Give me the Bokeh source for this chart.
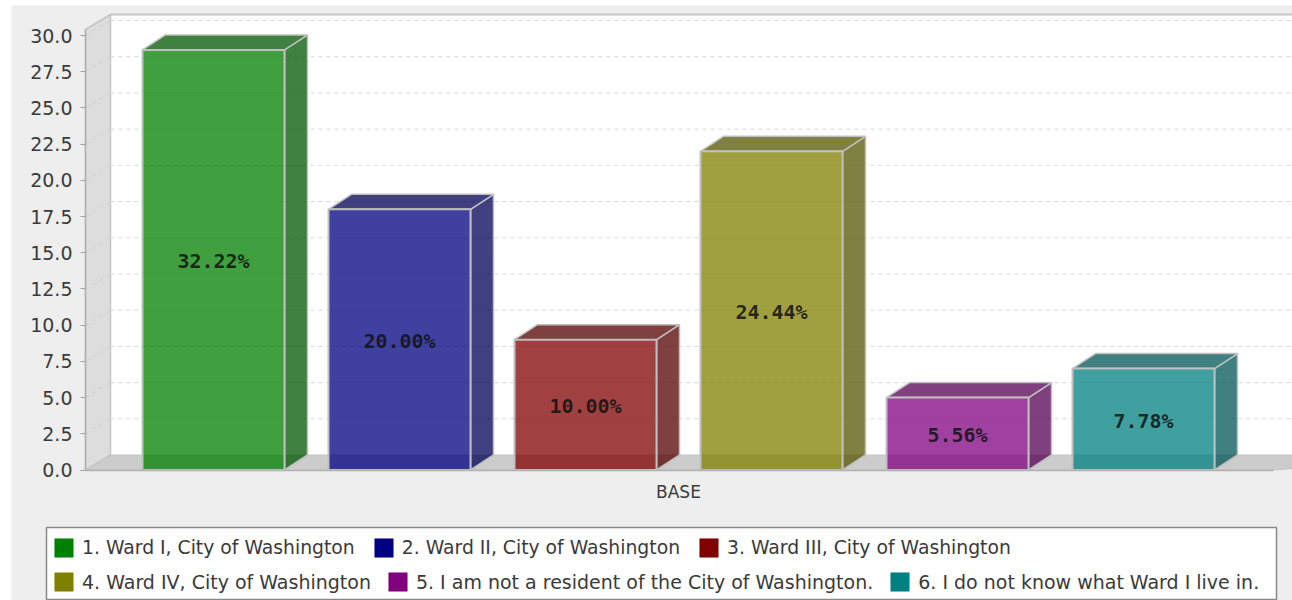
from bokeh.embed import file_html
from bokeh.resources import INLINE
from bokeh.plotting import figure
from bokeh.models import Range1d, FixedTicker, Legend, LegendItem, ColumnDataSource, NumeralTickFormatter
from bokeh.core.properties import value

# ---- data
categories = ["1. Ward I, City of Washington", "2. Ward II, City of Washington",
              "3. Ward III, City of Washington", "4. Ward IV, City of Washington",
              "5. I am not a resident of the City of Washington.",
              "6. I do not know what Ward I live in."]
counts = [29, 18, 9, 22, 5, 7]
labels = ["32.22%", "20.00%", "10.00%", "24.44%", "5.56%", "7.78%"]
colors = ["#008000", "#000080", "#800000", "#808000", "#800080", "#008080"]
side_colors = ["#005500", "#000055", "#550000", "#555500", "#550055", "#005555"]
y_ticks = [0.0, 2.5, 5.0, 7.5, 10.0, 12.5, 15.0, 17.5, 20.0, 22.5, 25.0, 27.5, 30.0]
group_label = "BASE"

# ---- layout (pixel geometry of the page)
FIG_L, FIG_T = 11, 5
FIG_W, FIG_H = 1281, 595
FIG_R, FIG_B = FIG_L + FIG_W, FIG_T + FIG_H
AXIS_L, AXIS_B = 85, 469.5
PX_Y = (469.5 - 35) / 30.0    # pixels per y unit
PX_X = 186.0                  # pixels per bar slot
X0_PX = 213.0                 # pixel of first bar centre
BAR_W = 142.0 / PX_X
WALL_DX, WALL_DY = 25.0 / PX_X, 15.0 / PX_Y
BAR_DX, BAR_DY = 23.0 / PX_X, 15.0 / PX_Y

def xd(px):
    return (px - X0_PX) / PX_X

def yd(px):
    return (AXIS_B - px) / PX_Y

x_start, x_end = xd(FIG_L), xd(FIG_R)
y_start, y_end = yd(FIG_B), yd(FIG_T)
wall_l = xd(AXIS_L)
y_wall_top = yd(14)
y_axis_top = y_wall_top - WALL_DY
floor_right = xd(1273)

p = figure(width=FIG_W, height=FIG_H, output_backend="svg", toolbar_location=None,
           x_range=Range1d(x_start, x_end), y_range=Range1d(y_start, y_end),
           min_border_left=0, min_border_right=0, min_border_top=0, min_border_bottom=0,
           margin=(FIG_T, 0, 0, FIG_L),
           background_fill_color="#eeeeee", border_fill_color="#eeeeee", outline_line_color=None)
p.xgrid.visible = False
p.ygrid.visible = False

# back wall, left wall, floor
wall_color, wall_line = "#dddddd", "#c4c4c4"
p.patch([wall_l + WALL_DX, x_end, x_end, wall_l + WALL_DX],
        [WALL_DY, WALL_DY, y_wall_top, y_wall_top], fill_color="white", line_color=None)
p.segment(wall_l + WALL_DX, y_wall_top, x_end, y_wall_top, line_color=wall_line, line_width=2)
p.patch([wall_l, wall_l + WALL_DX, wall_l + WALL_DX, wall_l],
        [0, WALL_DY, y_wall_top, y_axis_top], fill_color=wall_color, line_color=wall_line, line_width=1.5)
p.patch([wall_l, wall_l + WALL_DX, x_end + 1, floor_right],
        [0, WALL_DY, WALL_DY, 0], fill_color="#cccccc", line_color="#c4c4c4")

# gridlines on the walls
grid_y = [t for t in y_ticks if t > 0]
p.segment(x0=[wall_l + WALL_DX] * len(grid_y), x1=[x_end] * len(grid_y),
          y0=[t + WALL_DY for t in grid_y], y1=[t + WALL_DY for t in grid_y],
          line_color="#d8d8d8", line_width=1, line_dash="4 4")
p.segment(x0=[wall_l] * len(grid_y), x1=[wall_l + WALL_DX] * len(grid_y),
          y0=grid_y, y1=[t + WALL_DY for t in grid_y],
          line_color="#cfcfcf", line_width=1, line_dash="4 4")

# bars
xs = list(range(len(counts)))
BAR_LINE = "#c0c0c0"
for i, c in enumerate(counts):
    l, r = i - BAR_W / 2, i + BAR_W / 2
    p.patch([r, r + BAR_DX, r + BAR_DX, r], [0, BAR_DY, c + BAR_DY, c],
            fill_color=side_colors[i], fill_alpha=0.75, line_color=BAR_LINE, line_width=1.5)
    p.patch([l, l + BAR_DX, r + BAR_DX, r], [c, c + BAR_DY, c + BAR_DY, c],
            fill_color=side_colors[i], fill_alpha=0.75, line_color=BAR_LINE, line_width=1.5)
p.vbar(x=xs, top=counts, bottom=0, width=BAR_W, fill_color=colors, fill_alpha=0.75,
       line_color=BAR_LINE, line_width=2)

# value labels
src = ColumnDataSource(dict(x=xs, y=[c / 2 - 1.5 / PX_Y for c in counts], t=labels))
p.text("x", "y", text="t", source=src, text_align="center", text_baseline="middle",
       text_font=value("DejaVu Sans Mono"), text_font_style="bold", text_font_size="20px",
       text_color="#111111", text_alpha=0.85)

# axes, fixed inside the frame
ax = p.yaxis[0]
ax.fixed_location = wall_l
ax.bounds = (0, y_axis_top)
ax.ticker = FixedTicker(ticks=y_ticks)
ax.formatter = NumeralTickFormatter(format="0.0")
ax.major_label_text_font = "DejaVu Sans"
ax.major_label_text_font_size = "19px"
ax.major_label_text_color = "#3a3a3a"
ax.axis_line_color = "#b0b0b0"
ax.axis_line_width = 1.5
ax.major_tick_line_color = "#a0a0a0"
ax.major_tick_out = 5
ax.major_tick_in = 0
ax.minor_tick_line_color = None
ax.major_label_standoff = 8

bx = p.xaxis[0]
bx.fixed_location = 0
bx.bounds = (wall_l, floor_right)
bx.ticker = FixedTicker(ticks=[2.5])
bx.major_label_overrides = {2.5: group_label}
bx.major_label_text_font = "DejaVu Sans"
bx.major_label_text_font_size = "17px"
bx.major_label_text_color = "#3a3a3a"
bx.axis_line_color = "#b0b0b0"
bx.axis_line_width = 1.5
bx.major_tick_line_color = None
bx.minor_tick_line_color = None
bx.major_label_standoff = 6

# legend: frame, then two rows laid out by Bokeh
p.quad(left=[xd(46)], right=[xd(1276)], top=[yd(527)], bottom=[yd(599)],
       fill_color="white", line_color="#888888", line_width=1.5)
proxies = [p.quad(left=[float("nan")], right=[float("nan")], top=[float("nan")], bottom=[float("nan")],
                  fill_color=c, line_color=c, line_alpha=0.6) for c in colors]
for start, y_off, spacing, fsize in [(0, 41, 17, "18.8px"), (3, 7, 15, "19px")]:
    leg = Legend(items=[LegendItem(label=categories[j], renderers=[proxies[j]]) for j in range(start, start + 3)],
                 orientation="horizontal", location=(52 - FIG_L, y_off),
                 glyph_width=23, glyph_height=23, label_standoff=7, spacing=spacing,
                 padding=0, margin=0, border_line_color=None, background_fill_alpha=0,
                 label_text_font="DejaVu Sans", label_text_font_size=fsize, label_text_color="#3a3a3a",
                 label_height=23, label_text_baseline="middle", click_policy="none")
    p.add_layout(leg)

open("out.html", "w").write(file_html(p, INLINE))
